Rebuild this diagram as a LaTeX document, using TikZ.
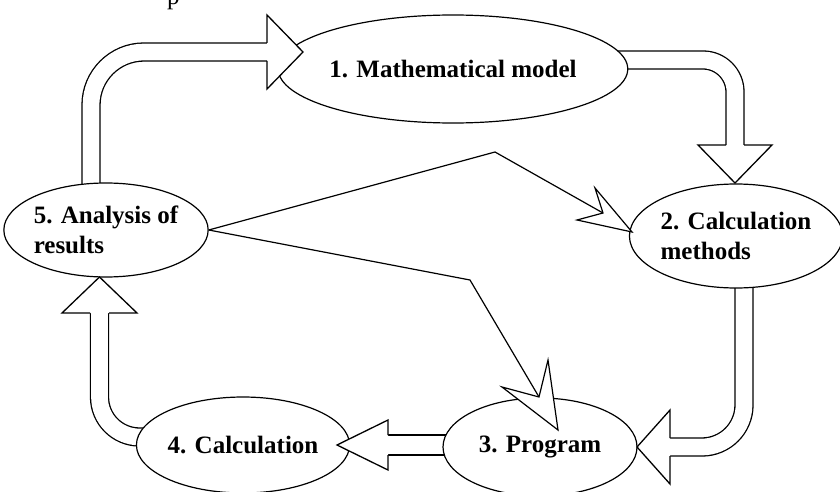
\documentclass[tikz,border=0pt]{standalone}
\usepackage{fontspec}
\setmainfont{Liberation Serif}
\usetikzlibrary{shapes.geometric,backgrounds}
\begin{document}
\begin{tikzpicture}[x=1pt,y=-1pt,
  ell/.style={ellipse, draw, line width=1.2pt, fill=white, inner sep=0pt,
    font=\fontsize{25}{30}\selectfont\bfseries, align=left},
  shaft/.style={draw, line width=1.3pt, double=white, double distance=16.7pt, line cap=butt},
  bhead/.style={draw, fill=white, line width=1.3pt, line join=miter},
  thinln/.style={draw, line width=1.2pt},
  thead/.style={draw, fill=white, line width=1.2pt, line join=miter}
]
\useasboundingbox (0,0) rectangle (840,492);
\clip (0,0) rectangle (840,492);

% partial caption text at top
\node[anchor=base west, inner sep=0pt, font=\fontsize{25}{30}\selectfont] (ptxt) at (167,4.5) {p};

% ellipses
\node[ell, minimum width=303pt, minimum height=108pt] (e1) at (453,69) {1. Mathematical model};
\node[ell, minimum width=208pt, minimum height=104pt] (e2) at (736,236) {2. Calculation\\methods};
\node[ell, minimum width=194pt, minimum height=98pt] (e3) at (540,447) {3. Program};
\node[ell, minimum width=186pt, minimum height=96pt] (e4) at (243,445) {4. Calculation};
\node[ell, minimum width=188pt, minimum height=94pt] (e5) at (106,230) {5. Analysis of\\results};

% named points
\coordinate (a0) at (91,230);  \coordinate (a1) at (91,52);   \coordinate (a2) at (267,52);
\coordinate (b0) at (500,60);  \coordinate (b1) at (735,60);  \coordinate (b2) at (735,145);
\coordinate (c0) at (744,236); \coordinate (c1) at (744,447); \coordinate (c2) at (670,447);
\coordinate (d0) at (540,445); \coordinate (d2) at (388,445);
\coordinate (f0) at (243,437); \coordinate (f1) at (99.5,437); \coordinate (f2) at (99.5,313);
\coordinate (p1) at (495,152); \coordinate (n1) at (603,213);
\coordinate (p2) at (470,280); \coordinate (n2) at (539,397);

% white page and block arrow shafts behind the ellipses
\begin{scope}[on background layer]
  \fill[white] (0,0) rectangle (840,492);
  \draw[shaft, rounded corners=53pt] (a0) -- (a1) -- (a2);
  \draw[shaft, rounded corners=32pt] (b0) -- (b1) -- (b2);
  \draw[shaft, rounded corners=42pt] (c0) -- (c1) -- (c2);
  \draw[shaft, double distance=18.7pt] (d0) -- (d2);
  \draw[shaft, rounded corners=40pt] (f0) -- (f1) -- (f2);
\end{scope}

% block arrow heads
\filldraw[bhead] (267,43) -- (267,15) -- (303,52) -- (267,89) -- (267,61);
\filldraw[bhead] (726,145) -- (698,145) -- (735,183) -- (772,145) -- (744,145);
\filldraw[bhead] (670,438) -- (670,410) -- (637,447) -- (670,484) -- (670,456);
\filldraw[bhead] (388,435) -- (388,420) -- (337,445) -- (388,470) -- (388,455);
\filldraw[bhead] (109,313) -- (137,313) -- (99.5,277) -- (62,313) -- (90,313);

% thin arrows from 5
\draw[thinln] (e5.east) -- (p1) -- (n1);
\filldraw[thead] (632,232) -- (595,188) -- (n1) -- (577,220) -- cycle;
\draw[thinln] (e5.east) -- (p2) -- (n2);
\filldraw[thead] (558,430) -- (548,360) -- (n2) -- (502,387) -- cycle;
\end{tikzpicture}
\end{document}
